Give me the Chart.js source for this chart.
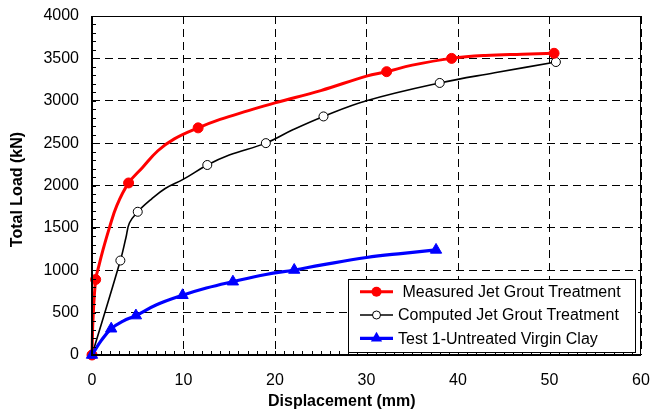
<!DOCTYPE html>
<html>
<head>
<meta charset="utf-8">
<script src="https://cdn.jsdelivr.net/npm/chart.js@4.4.1/dist/chart.umd.min.js"></script>
<style>
  html, body { margin: 0; padding: 0; background: #fff; }
  canvas { display: block; }
</style>
</head>
<body>
<canvas id="chart" width="653" height="410"></canvas>
<script>
/* global Chart */

// Measured jet grout treatment (red, filled circles)
const measuredX = [0, 0.1, 0.4, 0.7, 1.2, 1.9, 2.7, 4.0, 5.5, 7.2, 9.0, 11.6, 14.0, 17.0, 20.0, 25.0, 30.0, 32.2, 35.0, 39.3, 43.0, 47.0, 50.5];
const measuredY = [0, 400, 890, 1030, 1240, 1500, 1760, 2030, 2210, 2410, 2550, 2680, 2780, 2880, 2975, 3120, 3290, 3343, 3420, 3500, 3535, 3550, 3560];
const measuredMarks = [0, 2, 7, 11, 17, 19, 22];

// Computed jet grout treatment (black, open circles)
const computedX = [0, 3.1, 3.7, 4.1, 5.0, 6.5, 8.0, 10.0, 12.6, 15.0, 19.0, 22.0, 25.3, 30.0, 38.0, 44.0, 50.7];
const computedY = [0, 1115, 1380, 1560, 1690, 1840, 1965, 2075, 2242, 2360, 2500, 2660, 2815, 3000, 3210, 3330, 3457];
const computedMarks = [0, 1, 4, 8, 10, 12, 14, 16];

// Test 1 - untreated virgin clay (blue, triangles)
const clayX = [0, 1.0, 2.1, 3.4, 4.8, 7.0, 9.9, 12.5, 15.4, 19.0, 22.1, 25.0, 30.0, 34.0, 37.6];
const clayY = [0, 170, 310, 400, 465, 590, 705, 790, 865, 950, 1003, 1060, 1150, 1200, 1240];
const clayMarks = [0, 2, 4, 6, 8, 10, 14];

const seriesLabels = ["Measured Jet Grout Treatment", "Computed Jet Grout Treatment", "Test 1-Untreated Virgin Clay"];
const xTitle = "Displacement (mm)";
const yTitle = "Total Load (kN)";

const FONT = "'Liberation Sans', Arial, sans-serif";

const toPoints = (xs, ys) => xs.map((x, i) => ({ x: x, y: ys[i] }));
const markRadius = (marks, r) => ctx => (marks.includes(ctx.dataIndex) ? r : 0);

const datasets = [
  {
    label: seriesLabels[0],
    data: toPoints(measuredX, measuredY),
    borderColor: "#ff0000",
    backgroundColor: "#ff0000",
    borderWidth: 3,
    pointStyle: "circle",
    pointRadius: markRadius(measuredMarks, 5),
    pointBackgroundColor: "#ff0000",
    pointBorderColor: "#ff0000",
    pointBorderWidth: 1,
    order: 2
  },
  {
    label: seriesLabels[1],
    data: toPoints(computedX, computedY),
    borderColor: "#000000",
    backgroundColor: "#000000",
    borderWidth: 1.6,
    pointStyle: "circle",
    pointRadius: markRadius(computedMarks, 4.5),
    pointBackgroundColor: "#ffffff",
    pointBorderColor: "#000000",
    pointBorderWidth: 1,
    order: 3
  },
  {
    label: seriesLabels[2],
    data: toPoints(clayX, clayY),
    borderColor: "#0000ff",
    backgroundColor: "#0000ff",
    borderWidth: 3.2,
    pointStyle: "triangle",
    pointRadius: markRadius(clayMarks, 6.5),
    pointBackgroundColor: "#0000ff",
    pointBorderColor: "#0000ff",
    pointBorderWidth: 1,
    order: 1
  }
];

// Frame, inside minor ticks, axis titles and the boxed legend.
const decorations = {
  id: "decorations",
  afterDatasetsDraw: chart => {
    const ctx = chart.ctx;
    const area = chart.chartArea;
    const xAxis = chart.scales.x;
    const yAxis = chart.scales.y;

    ctx.save();
    ctx.strokeStyle = "#000";
    ctx.lineWidth = 1;
    ctx.beginPath();
    for (let v = 1; v < 60; v++) {
      const x = Math.round(xAxis.getPixelForValue(v)) + 0.5;
      ctx.moveTo(x, area.bottom);
      ctx.lineTo(x, area.bottom - 4);
    }
    for (let v = 100; v < 4000; v += 100) {
      const y = Math.round(yAxis.getPixelForValue(v)) + 0.5;
      ctx.moveTo(area.left, y);
      ctx.lineTo(area.left + 4, y);
    }
    ctx.stroke();

    ctx.lineWidth = 1;
    ctx.strokeRect(area.left, area.top + 0.5, area.right - area.left - 0.5, area.bottom - area.top);
    ctx.lineWidth = 2;
    ctx.beginPath();
    ctx.moveTo(area.left, area.top);
    ctx.lineTo(area.left, area.bottom);
    ctx.lineTo(area.right, area.bottom);
    ctx.stroke();
    ctx.restore();

    // Axis titles
    ctx.save();
    ctx.fillStyle = "#000";
    ctx.font = "bold 16px " + FONT;
    ctx.textAlign = "center";
    ctx.textBaseline = "middle";
    ctx.fillText(xTitle, area.left + (area.right - area.left) * 0.455, 402);
    ctx.translate(18, (area.top + area.bottom) / 2 + 4);
    ctx.rotate(-Math.PI / 2);
    ctx.fillText(yTitle, 0, 0);
    ctx.restore();

    // Legend
    const boxW = 287;
    const boxH = 73;
    const boxX = area.right - 6 - boxW;
    const boxY = area.bottom - 3 - boxH;
    ctx.save();
    ctx.fillStyle = "#fff";
    ctx.fillRect(boxX, boxY, boxW, boxH);
    ctx.strokeStyle = "#000";
    ctx.lineWidth = 1;
    ctx.strokeRect(boxX + 0.5, boxY + 0.5, boxW, boxH);
    ctx.font = "16px " + FONT;
    ctx.textBaseline = "middle";
    ctx.textAlign = "left";
    const rowYs = [12.7, 36, 59.3];
    chart.data.datasets.forEach((ds, i) => {
      const y = boxY + rowYs[i];
      const x0 = boxX + 12;
      const x1 = boxX + 45;
      const xm = (x0 + x1) / 2;
      ctx.strokeStyle = ds.borderColor;
      ctx.lineWidth = ds.borderWidth;
      ctx.beginPath();
      ctx.moveTo(x0, y);
      ctx.lineTo(x1, y);
      ctx.stroke();
      ctx.lineWidth = 1;
      ctx.beginPath();
      if (ds.pointStyle === "triangle") {
        const r = 6.5;
        ctx.moveTo(xm, y - r);
        ctx.lineTo(xm + r * Math.sin(2 * Math.PI / 3), y + r / 2);
        ctx.lineTo(xm - r * Math.sin(2 * Math.PI / 3), y + r / 2);
        ctx.closePath();
        ctx.fillStyle = ds.pointBackgroundColor;
        ctx.fill();
      } else if (i === 0) {
        ctx.arc(xm, y, 5, 0, Math.PI * 2);
        ctx.fillStyle = ds.pointBackgroundColor;
        ctx.fill();
      } else {
        ctx.arc(xm, y, 4, 0, Math.PI * 2);
        ctx.fillStyle = "#fff";
        ctx.fill();
        ctx.strokeStyle = "#000";
        ctx.stroke();
      }
      ctx.fillStyle = "#000";
      ctx.fillText((i === 0 ? " " : "") + ds.label, boxX + 50, y + 1);
    });
    ctx.restore();
  }
};

// eslint-disable-next-line no-new
new Chart(document.getElementById("chart"), {
  type: "line",
  data: { datasets: datasets },
  plugins: [decorations],
  options: {
    responsive: false,
    animation: false,
    devicePixelRatio: 1,
    layout: {
      autoPadding: false,
      padding: { left: 0, right: 12, top: 16, bottom: 0 }
    },
    elements: {
      line: { tension: 0.4, fill: false },
      point: { hoverRadius: 0 }
    },
    datasets: {
      line: { clip: false }
    },
    plugins: {
      legend: { display: false },
      tooltip: { enabled: false }
    },
    scales: {
      x: {
        type: "linear",
        min: 0,
        max: 60,
        afterFit: scale => {
          // tick padding would otherwise be added to the side padding
          scale.height = 55;
          scale.paddingLeft = 0;
          scale.paddingRight = 0;
        },
        ticks: {
          stepSize: 10,
          padding: 16,
          color: "#000",
          font: { family: FONT, size: 16 },
          callback: v => String(v)
        },
        grid: {
          color: "#000",
          lineWidth: 1,
          drawTicks: false
        },
        border: { display: false, dash: [8, 5] }
      },
      y: {
        min: 0,
        max: 4000,
        afterFit: scale => {
          scale.width = 92;
          scale.paddingTop = 0;
          scale.paddingBottom = 0;
        },
        ticks: {
          stepSize: 500,
          padding: 13,
          color: "#000",
          font: { family: FONT, size: 16 },
          callback: v => String(v)
        },
        grid: {
          color: "#000",
          lineWidth: 1,
          drawTicks: false
        },
        border: { display: false, dash: [8, 5] }
      }
    }
  }
});
</script>
</body>
</html>
